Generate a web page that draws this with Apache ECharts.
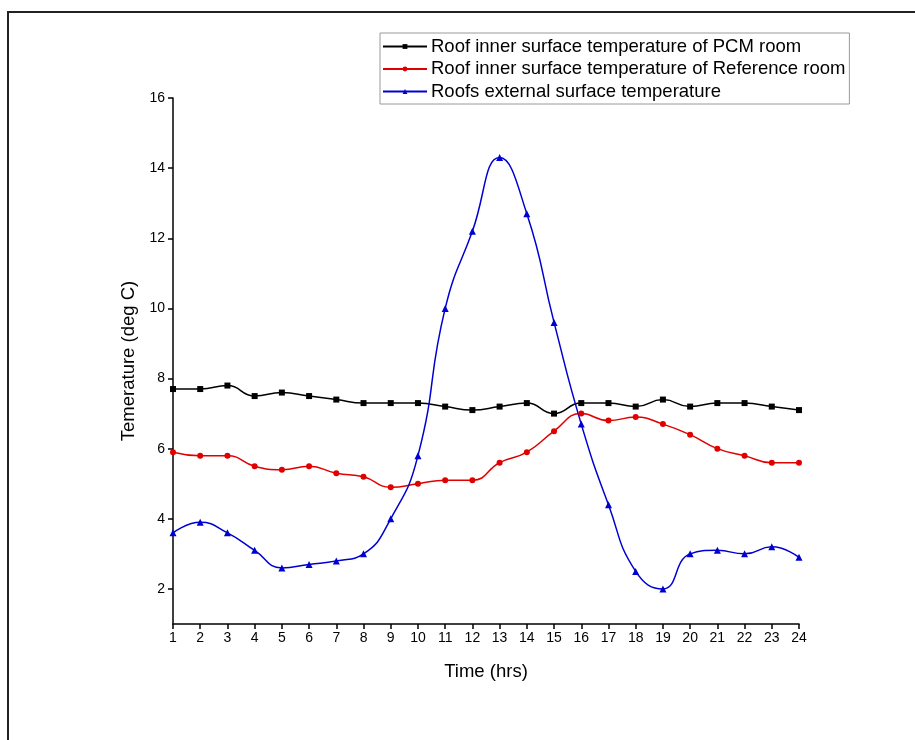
<!DOCTYPE html>
<html>
<head>
<meta charset="utf-8">
<script src="https://cdn.jsdelivr.net/npm/echarts@6/dist/echarts.min.js"></script>
<style>
html,body{margin:0;padding:0;background:#fff;}
#frame{position:absolute;left:7px;top:11px;right:-10px;bottom:-10px;border-top:2px solid #222;border-left:2px solid #222;}
#chart{position:absolute;left:0;top:0;width:915px;height:740px;}
</style>
</head>
<body>
<div id="frame"></div>
<div id="chart"></div>
<script>
const hours = [1,2,3,4,5,6,7,8,9,10,11,12,13,14,15,16,17,18,19,20,21,22,23,24];
const pcmRoom = [7.7,7.7,7.8,7.5,7.6,7.5,7.4,7.3,7.3,7.3,7.2,7.1,7.2,7.3,7.0,7.3,7.3,7.2,7.4,7.2,7.3,7.3,7.2,7.1];
const refRoom = [5.9,5.8,5.8,5.5,5.4,5.5,5.3,5.2,4.9,5.0,5.1,5.1,5.6,5.9,6.5,7.0,6.8,6.9,6.7,6.4,6.0,5.8,5.6,5.6];
const external = [3.6,3.9,3.6,3.1,2.6,2.7,2.8,3.0,4.0,5.8,10.0,12.2,14.3,12.7,9.6,6.7,4.4,2.5,2.0,3.0,3.1,3.0,3.2,2.9];
const yTicks = [2,4,6,8,10,12,14,16];
const seriesNames = [
  'Roof inner surface temperature of PCM room',
  'Roof inner surface temperature of Reference room',
  'Roofs external surface temperature'
];

const font = 'Liberation Sans, Arial, sans-serif';
const chart = echarts.init(document.getElementById('chart'), null, {renderer:'canvas'});
function pairs(arr){ return hours.map((h,i)=>[h,arr[i]]); }
chart.setOption({
  animation:false,
  backgroundColor:'transparent',
  textStyle:{fontFamily:font,color:'#000'},
  grid:{left:173,right:116,top:98,bottom:116,containLabel:false},
  legend:{
    orient:'vertical',left:380,top:33,
    itemWidth:44,itemHeight:6,itemGap:3.5,
    padding:[4,4,3,2],
    borderColor:'#9a9a9a',borderWidth:1,
    textStyle:{fontFamily:font,fontSize:18.5,lineHeight:18,color:'#000',padding:[0,0,0,-1]},
    data:seriesNames
  },
  xAxis:{
    type:'value',min:1,max:24,interval:1,
    name:'Time (hrs)',nameLocation:'middle',nameGap:38,
    nameTextStyle:{fontFamily:font,fontSize:18.5,color:'#000'},
    axisLine:{show:true,lineStyle:{color:'#000',width:1.5}},
    axisTick:{show:true,inside:false,length:5,lineStyle:{color:'#000',width:1.5}},
    axisLabel:{fontFamily:font,fontSize:14,color:'#000',margin:7},
    splitLine:{show:false}
  },
  yAxis:{
    type:'value',min:1,max:16,
    name:'Temerature (deg C)',nameLocation:'middle',nameGap:35,nameRotate:90,
    nameTextStyle:{fontFamily:font,fontSize:18.5,color:'#000'},
    axisLine:{show:true,lineStyle:{color:'#000',width:1.5}},
    axisTick:{show:true,inside:false,length:5,customValues:yTicks,lineStyle:{color:'#000',width:1.5}},
    axisLabel:{fontFamily:font,fontSize:14,color:'#000',margin:8,customValues:yTicks},
    splitLine:{show:false}
  },
  series:[
    {name:seriesNames[0],type:'line',data:pairs(pcmRoom),smooth:0.5,
     symbol:'rect',symbolSize:6,color:'#000',lineStyle:{width:1.5,color:'#000'},itemStyle:{color:'#000'}},
    {name:seriesNames[1],type:'line',data:pairs(refRoom),smooth:0.5,
     symbol:'circle',symbolSize:6,color:'#e00000',lineStyle:{width:1.5,color:'#e00000'},itemStyle:{color:'#e00000'}},
    {name:seriesNames[2],type:'line',data:pairs(external),smooth:0.5,
     symbol:'triangle',symbolSize:7,color:'#0000d0',lineStyle:{width:1.5,color:'#0000d0'},itemStyle:{color:'#0000d0'}}
  ]
});
</script>
</body>
</html>
